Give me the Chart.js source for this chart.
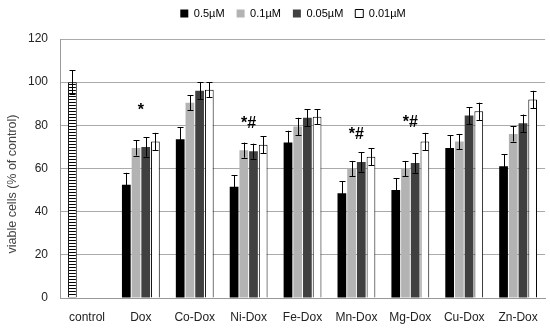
<!DOCTYPE html>
<html>
<head>
<meta charset="utf-8">
<script src="https://cdn.jsdelivr.net/npm/chart.js@4.4.0/dist/chart.umd.min.js"></script>
<style>
  body { margin: 0; background: #fff; }
  #wrap { width: 550px; height: 330px; }
</style>
</head>
<body>
<div id="wrap"><canvas id="cellChart"></canvas></div>
<script>
const categories = ['control', 'Dox', 'Co-Dox', 'Ni-Dox', 'Fe-Dox', 'Mn-Dox', 'Mg-Dox', 'Cu-Dox', 'Zn-Dox'];
const seriesLabels = ['0.5µM', '0.1µM', '0.05µM', '0.01µM'];
const yTitle = 'viable cells (% of control)';

// control value sits in the first series slot
const dose05 = [100, 52.5, 73.5, 51.5, 72, 48.5, 50, 69.5, 61];
const dose01 = [null, 69.5, 90.5, 68.5, 79.5, 60, 60, 72.5, 76];
const dose005 = [null, 70, 96, 68, 83.5, 63, 62.5, 84.5, 81];
const dose001 = [null, 72.5, 96.5, 71, 84, 65.5, 72.5, 86.5, 92];

const err05 = [5.5, 5.5, 5.5, 5.5, 5.5, 5.5, 5.5, 6, 5.5];
const err01 = [null, 3.5, 3.5, 3.5, 4, 3.5, 3.5, 3.5, 3.5];
const err005 = [null, 4.5, 4, 3.5, 4, 4.5, 4.5, 4, 4];
const err001 = [null, 4, 3.5, 4, 3.5, 4, 4, 4, 4];

// significance marks: category, text, y value
const marks = [
  ['Dox', '*', 87],
  ['Ni-Dox', '*#', 81],
  ['Mn-Dox', '*#', 75.5],
  ['Mg-Dox', '*#', 81.5],
];

const errors = [err05, err01, err005, err001];

// horizontal stripes for control bar
const pc = document.createElement('canvas');
pc.width = 4; pc.height = 3;
const pctx = pc.getContext('2d');
pctx.fillStyle = '#fff';
pctx.fillRect(0, 0, 4, 3);
pctx.fillStyle = '#000';
pctx.fillRect(0, 0, 4, 1);
const stripes = pctx.createPattern(pc, 'repeat');

const errorBars = {
  id: 'errorBars',
  beforeInit(chart) {
    // a little more room under the legend
    const fit = chart.legend.fit;
    chart.legend.fit = function () {
      fit.bind(this)();
      this.height += 10;
    };
  },
  afterLayout(chart) {
    // legend sits a bit right of centre in the original
    chart.legend.left += 12;
    chart.legend.right += 12;
  },
  afterDatasetsDraw(chart) {
    const ctx = chart.ctx;
    const y = chart.scales.y;
    ctx.save();
    ctx.strokeStyle = '#000';
    ctx.lineWidth = 1;
    chart.data.datasets.forEach((ds, i) => {
      const meta = chart.getDatasetMeta(i);
      meta.data.forEach((bar, j) => {
        const v = ds.data[j];
        const e = errors[i][j];
        if (v == null || e == null) return;
        const x = Math.round(bar.x) + 0.5;
        const top = y.getPixelForValue(v + e);
        const bot = y.getPixelForValue(v - e);
        ctx.beginPath();
        ctx.moveTo(x, top); ctx.lineTo(x, bot);
        ctx.moveTo(x - 3, Math.round(top) + 0.5); ctx.lineTo(x + 3, Math.round(top) + 0.5);
        ctx.moveTo(x - 3, Math.round(bot) + 0.5); ctx.lineTo(x + 3, Math.round(bot) + 0.5);
        ctx.stroke();
      });
    });
    ctx.fillStyle = '#000';
    ctx.font = 'bold 16px "Liberation Sans"';
    ctx.textAlign = 'center';
    ctx.textBaseline = 'middle';
    marks.forEach(m => {
      const x = chart.scales.x.getPixelForValue(categories.indexOf(m[0]));
      ctx.fillText(m[1], x, y.getPixelForValue(m[2]));
    });
    // y axis title, sits lower than the plot centre like the original
    ctx.save();
    ctx.translate(13, 184);
    ctx.rotate(-Math.PI / 2);
    ctx.fillStyle = '#444';
    ctx.font = '12.5px "Liberation Sans"';
    ctx.fillText(yTitle, 0, 0);
    ctx.restore();
    ctx.restore();
  }
};

Chart.defaults.font.family = '"Liberation Sans", Arial, sans-serif';
Chart.defaults.color = '#222';

new Chart(document.getElementById('cellChart'), {
  type: 'bar',
  data: {
    labels: categories,
    datasets: [
      {
        label: seriesLabels[0], data: dose05,
        backgroundColor: c => (c.dataIndex === 0 ? stripes : '#000'),
        borderColor: '#000',
        borderWidth: c => (c.dataIndex === 0 ? 1 : 0),
      },
      { label: seriesLabels[1], data: dose01, backgroundColor: '#b3b3b3', borderWidth: 0 },
      { label: seriesLabels[2], data: dose005, backgroundColor: '#404040', borderWidth: 0 },
      { label: seriesLabels[3], data: dose001, backgroundColor: '#fff', borderColor: '#000', borderWidth: 1 },
    ],
  },
  options: {
    responsive: true,
    maintainAspectRatio: false,
    animation: false,
    layout: { padding: { left: 16, right: 4, top: -4, bottom: 0 } },
    datasets: { bar: { categoryPercentage: 0.72, barPercentage: 0.9 } },
    plugins: {
      legend: {
        position: 'top',
        labels: {
          boxWidth: 8, boxHeight: 8, padding: 12, font: { size: 11 }, color: '#000',
          generateLabels(chart) {
            const items = Chart.defaults.plugins.legend.labels.generateLabels(chart);
            items[0].fillStyle = '#000';
            items.forEach(it => { if (it.datasetIndex !== 3) it.lineWidth = 0; });
            return items;
          },
        },
      },
      tooltip: { enabled: false },
    },
    scales: {
      x: {
        grid: { display: false, drawTicks: false },
        border: { color: '#999' },
        ticks: { font: { size: 12 }, color: '#222', padding: 12 },
        afterFit(scale) { scale.height = 32; },
      },
      y: {
        min: 0, max: 120,
        ticks: { stepSize: 20, font: { size: 12 }, color: '#222', padding: 12 },
        grid: { color: '#aaa', drawTicks: false },
        border: { color: '#999' },
      },
    },
  },
  plugins: [errorBars],
});
</script>
</body>
</html>
